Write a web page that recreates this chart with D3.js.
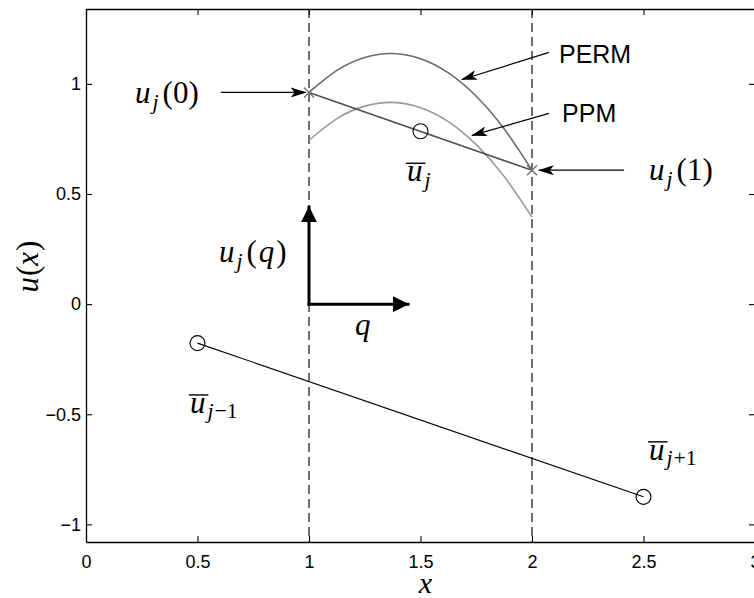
<!DOCTYPE html>
<html>
<head>
<meta charset="utf-8">
<script src="https://cdn.jsdelivr.net/npm/d3@7"></script>
<style>
  html, body { margin: 0; padding: 0; background: #fff; overflow: hidden; }
  svg { display: block; }
</style>
</head>
<body>
<svg id="chart" width="754" height="598"></svg>
<script>
// ---- data ----------------------------------------------------------------
const xTicks = [0, 0.5, 1, 1.5, 2, 2.5, 3];
const yTicks = [-1, -0.5, 0, 0.5, 1];

// cell interfaces (dashed)
const cellEdges = [1, 2];

// cell averages: j-1, j, j+1
const meanX = [0.5, 1.5, 2.5];
const meanY = [-0.177, 0.785, -0.875];

// linear reconstruction u_j(q) inside cell j, values at the two edges
const edgeX = [1, 2];
const edgeY = [0.961, 0.608];

// parabolic reconstructions inside cell j
const curveX = [1, 1.125, 1.25, 1.375, 1.5, 1.625, 1.75, 1.875, 2];
const permY  = [0.961, 1.061, 1.120, 1.138, 1.114, 1.050, 0.944, 0.796, 0.608];
const ppmY   = [0.744, 0.842, 0.899, 0.916, 0.892, 0.829, 0.724, 0.580, 0.395];

// thin annotation arrows: [x0, y0, x1, y1] (tail -> head, data units)
const arrowUj0  = [0.605, 0.961, 0.985, 0.961];
const arrowPERM = [2.076, 1.143, 1.686, 1.020];
const arrowPPM  = [2.076, 0.866, 1.731, 0.766];
const arrowUj1  = [2.413, 0.608, 2.031, 0.608];

// local coordinate axes of the cell (thick arrows)
const frameOrigin = [1, 0];
const frameUp     = [1, 0.44];
const frameRight  = [1.444, 0];

// ---- layout ----------------------------------------------------------------
const svg = d3.select("#chart");
const margin = { left: 86, top: 9, right: 755, bottom: 542 };

const x = d3.scaleLinear().domain([0, 3]).range([margin.left, margin.right]);
const y = d3.scaleLinear().domain([-1.08, 1.34]).range([margin.bottom, margin.top]);

const sans = "'Liberation Sans', Arial, Helvetica, sans-serif";
const serif = "'Liberation Serif', 'Times New Roman', serif";

// arrowheads
const defs = svg.append("defs");
defs.append("marker")
  .attr("id", "thinHead")
  .attr("viewBox", "0 0 16 10")
  .attr("refX", 15).attr("refY", 5)
  .attr("markerWidth", 16).attr("markerHeight", 10)
  .attr("markerUnits", "userSpaceOnUse")
  .attr("orient", "auto")
  .append("path")
  .attr("d", "M0,0 L16,5 L0,10 L4,5 Z")
  .attr("fill", "#000");

defs.append("marker")
  .attr("id", "thickHead")
  .attr("viewBox", "0 0 16 16")
  .attr("refX", 15).attr("refY", 8)
  .attr("markerWidth", 16).attr("markerHeight", 16)
  .attr("markerUnits", "userSpaceOnUse")
  .attr("orient", "auto")
  .append("path")
  .attr("d", "M0,0 L16,8 L0,16 Z")
  .attr("fill", "#000");

// ---- axes (box with inward ticks on all sides) ------------------------------
const fmt = d => d3.format("")(d).replace("-", "\u2212");

const gx = svg.append("g").attr("transform", `translate(0,${margin.bottom})`)
  .call(d3.axisBottom(x).tickValues(xTicks).tickSizeInner(-6).tickSizeOuter(0).tickPadding(13).tickFormat(fmt));
const gxt = svg.append("g").attr("transform", `translate(0,${margin.top})`)
  .call(d3.axisTop(x).tickValues(xTicks).tickSizeInner(-6).tickSizeOuter(0).tickFormat(""));
const gy = svg.append("g").attr("transform", `translate(${margin.left},0)`)
  .call(d3.axisLeft(y).tickValues(yTicks).tickSizeInner(-6).tickSizeOuter(0).tickPadding(5).tickFormat(fmt));
const gyr = svg.append("g").attr("transform", `translate(${margin.right},0)`)
  .call(d3.axisRight(y).tickValues(yTicks).tickSizeInner(-6).tickSizeOuter(0).tickFormat(""));

[gx, gxt, gy, gyr].forEach(g => {
  g.select(".domain").attr("stroke", "#000").attr("stroke-width", 1.3);
  g.selectAll(".tick line").attr("stroke", "#000").attr("stroke-width", 1.1);
  g.selectAll(".tick text").attr("font-family", sans).attr("font-size", 18).attr("fill", "#000");
});

// ---- dashed cell interfaces -------------------------------------------------
svg.append("g").selectAll("line").data(cellEdges).join("line")
  .attr("x1", d => x(d)).attr("x2", d => x(d))
  .attr("y1", margin.top).attr("y2", margin.bottom)
  .attr("stroke", "#222").attr("stroke-width", 1.3)
  .attr("stroke-dasharray", "9,5");

// ---- parabolas ----------------------------------------------------------------
const curveLine = d3.line().x(d => x(d[0])).y(d => y(d[1])).curve(d3.curveNatural);
svg.append("path")
  .attr("d", curveLine(d3.zip(curveX, permY)))
  .attr("fill", "none").attr("stroke", "#6a6a6a").attr("stroke-width", 1.6);
svg.append("path")
  .attr("d", curveLine(d3.zip(curveX, ppmY)))
  .attr("fill", "none").attr("stroke", "#999").attr("stroke-width", 1.6);

// ---- linear reconstruction in cell j -----------------------------------------
svg.append("path")
  .attr("d", d3.line().x(d => x(d[0])).y(d => y(d[1]))(d3.zip(edgeX, edgeY)))
  .attr("fill", "none").attr("stroke", "#505050").attr("stroke-width", 1.6);

// crosses at edges
svg.append("g").selectAll("path").data(d3.zip(edgeX, edgeY)).join("path")
  .attr("d", d => {
    const cx = x(d[0]), cy = y(d[1]), s = 5;
    return `M${cx - s},${cy - s}L${cx + s},${cy + s}M${cx - s},${cy + s}L${cx + s},${cy - s}`;
  })
  .attr("stroke", "#777").attr("stroke-width", 1.5).attr("fill", "none");

// line joining neighbouring averages
svg.append("line")
  .attr("x1", x(meanX[0])).attr("y1", y(meanY[0]))
  .attr("x2", x(meanX[2])).attr("y2", y(meanY[2]))
  .attr("stroke", "#000").attr("stroke-width", 1.1);

// cell averages
svg.append("g").selectAll("circle").data(d3.zip(meanX, meanY)).join("circle")
  .attr("cx", d => x(d[0])).attr("cy", d => y(d[1])).attr("r", 7.5)
  .attr("fill", "none").attr("stroke", "#000").attr("stroke-width", 1.1);

// ---- annotation arrows ------------------------------------------------------
[arrowUj0, arrowPERM, arrowPPM, arrowUj1].forEach(a => {
  svg.append("line")
    .attr("x1", x(a[0])).attr("y1", y(a[1]))
    .attr("x2", x(a[2])).attr("y2", y(a[3]))
    .attr("stroke", "#000").attr("stroke-width", 1.2)
    .attr("marker-end", "url(#thinHead)");
});

[frameUp, frameRight].forEach(p => {
  svg.append("line")
    .attr("x1", x(frameOrigin[0])).attr("y1", y(frameOrigin[1]))
    .attr("x2", x(p[0])).attr("y2", y(p[1]))
    .attr("stroke", "#000").attr("stroke-width", 3)
    .attr("stroke-linecap", "square")
    .attr("marker-end", "url(#thickHead)");
});

// ---- text labels --------------------------------------------------------------
// parts: {t, it: italic, sub: subscript}; bar draws an overline above the first glyph
function mathText(px, py, parts, opts = {}) {
  const fs = opts.size || 31;
  const t = svg.append("text")
    .attr("x", px).attr("y", py)
    .attr("font-family", serif).attr("font-size", fs).attr("fill", "#000");
  let inSub = false;
  parts.forEach(p => {
    const ts = t.append("tspan").text(p.t);
    if (p.it) ts.attr("font-style", "italic");
    if (p.sub && !inSub) { ts.attr("font-size", fs * 0.7).attr("dy", fs * 0.17).attr("dx", 2); inSub = true; }
    else if (p.sub) { ts.attr("font-size", fs * 0.7).attr("dx", 1); }
    else if (!p.sub && inSub) { ts.attr("dy", -fs * 0.17).attr("dx", 4); inSub = false; }
    else ts.attr("dx", 2);
  });
  if (opts.bar) {
    const node = t.node();
    const s = node.getStartPositionOfChar(0).x;
    const e = node.getEndPositionOfChar(0).x;
    svg.append("line")
      .attr("x1", s - 1).attr("x2", e + 3)
      .attr("y1", py - fs * 0.58).attr("y2", py - fs * 0.58)
      .attr("stroke", "#000").attr("stroke-width", 1.4);
  }
  return t;
}

mathText(x(0.211), y(0.912), [{ t: "u", it: true }, { t: "j", it: true, sub: true }, { t: "(0)" }]);
mathText(x(2.516), y(0.562), [{ t: "u", it: true }, { t: "j", it: true, sub: true }, { t: "(1)" }]);
mathText(x(0.587), y(0.19), [{ t: "u", it: true }, { t: "j", it: true, sub: true }, { t: "(" }, { t: "q", it: true }, { t: ")" }]);
mathText(x(1.197), y(-0.141), [{ t: "q", it: true }]);
mathText(x(1.430), y(0.558), [{ t: "u", it: true }, { t: "j", it: true, sub: true }], { bar: true });
mathText(x(0.457), y(-0.494), [{ t: "u", it: true }, { t: "j", it: true, sub: true }, { t: "\u22121", sub: true }], { bar: true });
mathText(x(2.516), y(-0.707), [{ t: "u", it: true }, { t: "j", it: true, sub: true }, { t: "+1", sub: true }], { bar: true });

svg.append("text").attr("x", x(2.121)).attr("y", y(1.093))
  .attr("font-family", sans).attr("font-size", 25).text("PERM");
svg.append("text").attr("x", x(2.135)).attr("y", y(0.825))
  .attr("font-family", sans).attr("font-size", 25).text("PPM");

// axis titles
svg.append("text")
  .attr("x", (margin.left + margin.right) / 2 + 5).attr("y", 593)
  .attr("text-anchor", "middle")
  .attr("font-family", serif).attr("font-size", 30).attr("font-style", "italic")
  .text("x");

const yl = svg.append("text")
  .attr("transform", `translate(38,${(margin.top + margin.bottom) / 2 - 9}) rotate(-90)`)
  .attr("text-anchor", "middle")
  .attr("font-family", serif).attr("font-size", 31);
yl.append("tspan").attr("font-style", "italic").text("u");
yl.append("tspan").attr("dx", 1).text("(");
yl.append("tspan").attr("font-style", "italic").text("x");
yl.append("tspan").attr("dx", 1).text(")");
</script>
</body>
</html>
